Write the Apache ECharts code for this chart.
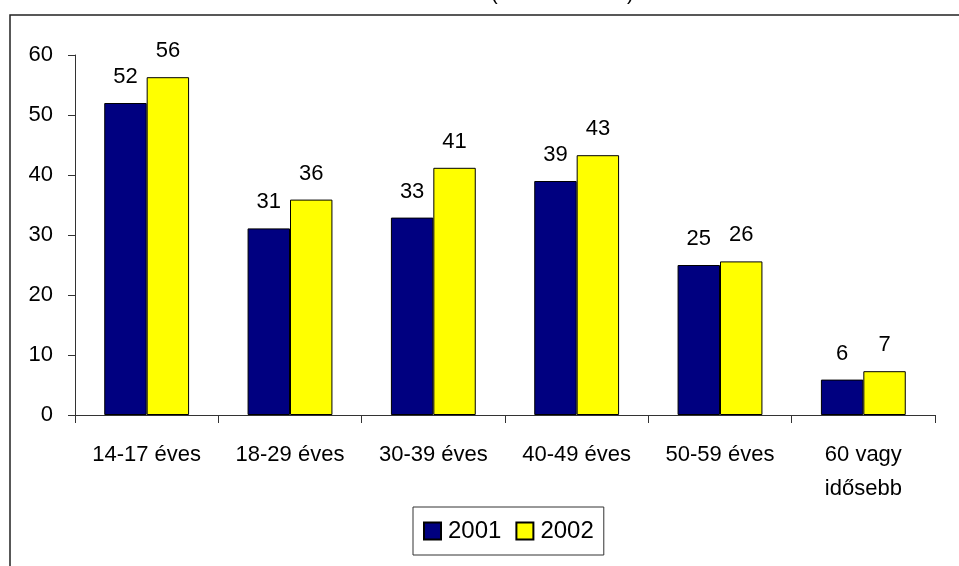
<!DOCTYPE html>
<html>
<head>
<meta charset="utf-8">
<script src="https://cdn.jsdelivr.net/npm/echarts@6/dist/echarts.min.js"></script>
<style>
html,body{margin:0;padding:0;background:#fff;}
#c{width:959px;height:566px;}
</style>
</head>
<body>
<div id="c"></div>
<script>
const categories = ['14-17 éves', '18-29 éves', '30-39 éves', '40-49 éves', '50-59 éves', '60 vagy\nidősebb'];
const seriesNames = ['2001', '2002'];
const values2001 = [52, 31.1, 32.9, 39, 25, 5.9];
const values2002 = [56.3, 35.9, 41.2, 43.3, 25.6, 7.3];
const yTicks = [0, 10, 20, 30, 40, 50, 60];

const FONT = '"Liberation Sans", Arial, sans-serif';
const chart = echarts.init(document.getElementById('c'), null, {renderer: 'canvas'});

const labelCfg = {
  show: true,
  position: 'top',
  distance: 15,
  color: '#000',
  fontSize: 22,
  fontFamily: FONT,
  formatter: p => Math.round(p.value)
};

chart.setOption({
  animation: false,
  backgroundColor: '#fff',
  textStyle: {fontFamily: FONT},
  graphic: [
    {type: 'rect', z: -1, shape: {x: 10, y: 15, width: 1100, height: 700},
     style: {fill: 'none', stroke: '#222', lineWidth: 1.5}},
    {type: 'text', x: 491, y: -6, style: {text: '(', fontSize: 20, fontFamily: FONT, fill: '#000', verticalAlign: 'middle'}},
    {type: 'text', x: 627, y: -6, style: {text: ')', fontSize: 20, fontFamily: FONT, fill: '#000', verticalAlign: 'middle'}}
  ],
  grid: {left: 75, right: 24, top: 55, bottom: 151, containLabel: false},
  legend: {
    data: seriesNames,
    left: 413, top: 507,
    orient: 'horizontal',
    padding: [12, 10, 12, 10],
    itemGap: 14,
    itemWidth: 17, itemHeight: 17,
    icon: 'rect',
    borderColor: '#333', borderWidth: 1,
    textStyle: {fontSize: 24, color: '#000', fontFamily: FONT, padding: [0, 0, 0, 2]}
  },
  xAxis: {
    type: 'category',
    data: categories,
    axisLine: {lineStyle: {color: '#333', width: 1}},
    axisTick: {show: true, length: 8, lineStyle: {color: '#333'}},
    axisLabel: {interval: 0, fontSize: 22, color: '#000', margin: 23, lineHeight: 34, fontFamily: FONT},
    splitLine: {show: false}
  },
  yAxis: {
    type: 'value',
    min: yTicks[0], max: yTicks[yTicks.length - 1], interval: 10,
    axisLine: {show: true, lineStyle: {color: '#333', width: 1}},
    axisTick: {show: true, length: 7, lineStyle: {color: '#333'}},
    axisLabel: {fontSize: 22, color: '#000', margin: 22, fontFamily: FONT},
    splitLine: {show: false}
  },
  series: [
    {name: seriesNames[0], type: 'bar', data: values2001, barWidth: '29.6%', barGap: '0%',
     itemStyle: {color: '#000080', borderColor: '#000', borderWidth: 1}, label: labelCfg},
    {name: seriesNames[1], type: 'bar', data: values2002, barWidth: '29.6%', barGap: '0%',
     itemStyle: {color: '#ffff00', borderColor: '#000', borderWidth: 1}, label: labelCfg}
  ]
});
</script>
</body>
</html>
